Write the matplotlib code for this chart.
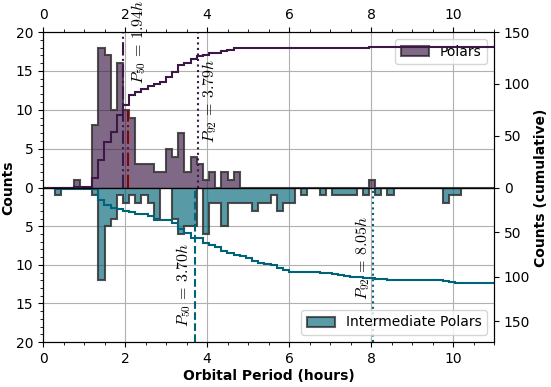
import numpy as np
import matplotlib
matplotlib.use("Agg")
import matplotlib.pyplot as plt
from matplotlib.patches import Patch
from matplotlib.ticker import MultipleLocator

plt.rcParams['mathtext.fontset'] = 'cm'

# histogram bins (hours)
bin_width = 0.15
n_bins = 74
# Polars: counts per bin index
polar_bins = [5, 8, 9, 10, 11, 12, 13, 14, 15, 16, 17, 18, 19, 20, 21, 22, 23, 24, 25, 26, 27, 29, 30, 31, 53]
polar_counts = [1, 8, 18, 17, 10, 16, 10, 9, 3, 3, 3, 2, 2, 5, 4, 7, 2, 4, 3, 1, 2, 2, 1, 2, 1]
# Intermediate Polars: counts per bin index
ip_bins = [2, 8, 9, 10, 11, 12, 13, 14, 15, 16, 17, 18, 21, 22, 23, 24, 26, 27, 28, 29, 30, 31, 32,
           33, 34, 35, 36, 37, 38, 39, 40, 42, 45, 47, 48, 49, 50, 52, 54, 56, 65, 66, 67]
ip_counts = [1, 1, 12, 5, 4, 1, 2, 1, 2, 1, 2, 4, 4, 6, 5, 5, 6, 2, 2, 5, 2, 2, 2,
             2, 3, 2, 2, 1, 3, 2, 2, 1, 1, 1, 1, 1, 1, 1, 1, 1, 2, 1, 1]

polar_p50, polar_p92 = 1.94, 3.79
ip_p50, ip_p92 = 3.70, 8.05
red_x, red_h = 2.08, 10

polar_color = '#3c1846'
ip_color = '#006478'

edges = np.arange(n_bins + 1) * bin_width
pc = np.zeros(n_bins); pc[polar_bins] = polar_counts
ic = np.zeros(n_bins); ic[ip_bins] = ip_counts

fig = plt.figure(figsize=(5.51, 3.87), dpi=100)
L, R, T, B = 43/551, 494/551, 1-32/387, 1-342/387
M = 1 - 187.7/387
ax1 = fig.add_axes([L, M, R-L, T-M])
ax2 = fig.add_axes([L, B, R-L, M-B], sharex=ax1)

for ax in (ax1, ax2):
    ax.grid(True, color='#b0b0b0', lw=0.8, zorder=0)
    ax.set_axisbelow(True)
    ax.set_xlim(0, 11)
    ax.xaxis.set_major_locator(MultipleLocator(2))
    ax.xaxis.set_minor_locator(MultipleLocator(0.5))
    ax.yaxis.set_major_locator(MultipleLocator(5))
    ax.yaxis.set_minor_locator(MultipleLocator(1))

ax1.stairs(pc, edges, fill=True, facecolor=polar_color, alpha=0.65, zorder=2)
ax1.stairs(pc, edges, fill=False, edgecolor='#333333', lw=1.5, alpha=0.85, zorder=3)
ax2.stairs(ic, edges, fill=True, facecolor=ip_color, alpha=0.65, zorder=2)
ax2.stairs(ic, edges, fill=False, edgecolor='#333333', lw=1.5, alpha=0.85, zorder=3)

ax1.set_ylim(0, 20)
ax2.set_ylim(20, 0)
ax1.xaxis.tick_top()
ax1.tick_params(axis='x', which='both', bottom=False, top=True, labelbottom=False, labeltop=True)
ax2.tick_params(axis='x', which='both', top=False)
ax2.set_yticks([5, 10, 15, 20])

# cumulative
t1 = ax1.twinx()
t2 = ax2.twinx()
t1.stairs(np.cumsum(pc), edges, color=polar_color, lw=1.5, baseline=None)
t2.stairs(np.cumsum(ic), edges, color=ip_color, lw=1.5, baseline=None)
t1.set_ylim(0, 1.1 * pc.sum())
t2.set_ylim(173, 0)
t1.set_yticks([0, 50, 100, 150])
t2.set_yticks([50, 100, 150])
t1.set_xlim(0, 11); t2.set_xlim(0, 11)

# percentile lines
ax1.axvline(polar_p50, color=polar_color, ls='-.', lw=1.5, zorder=4)
ax1.axvline(polar_p92, color=polar_color, ls=':', lw=1.5, zorder=4)
ax1.plot([red_x, red_x], [0, red_h], color='#8b0000', ls='-.', lw=1.5, zorder=4)
ax2.axvline(ip_p50, color=ip_color, ls='--', lw=1.5, zorder=4)
ax2.axvline(ip_p92, color=ip_color, ls=':', lw=1.5, zorder=4)

fs = 11.5
ax1.text(2.11, 13.3, r'$P_{50}\,=\,%.2fh$' % polar_p50, rotation=90, ha='left', va='bottom',
         fontsize=fs, clip_on=False)
ax1.text(3.83, 5.8, r'$P_{92}\,=\,%.2fh$' % polar_p92, rotation=90, ha='left', va='bottom', fontsize=fs)
ax2.text(3.66, 18.0, r'$P_{50}\,=\,%.2fh$' % ip_p50, rotation=90, ha='right', va='bottom', fontsize=fs)
ax2.text(8.03, 14.5, r'$P_{92}\,=\,%.2fh$' % ip_p92, rotation=90, ha='right', va='bottom', fontsize=fs)

ax1.legend(handles=[Patch(facecolor=polar_color, alpha=0.65, edgecolor='#111111', lw=1.5, label='Polars')],
           loc='upper right')
ax2.legend(handles=[Patch(facecolor=ip_color, alpha=0.65, edgecolor='#111111', lw=1.5, label='Intermediate Polars')],
           loc='lower right')

fig.text(0.002, M, 'Counts', rotation=90, va='center', ha='left', fontweight='bold', fontsize=10)
fig.text(0.995, M, 'Counts (cumulative)', rotation=90, va='center', ha='right', fontweight='bold', fontsize=10)
ax2.set_xlabel('Orbital Period (hours)', fontweight='bold', fontsize=10, labelpad=2)

fig.savefig('out.png', dpi=100)
